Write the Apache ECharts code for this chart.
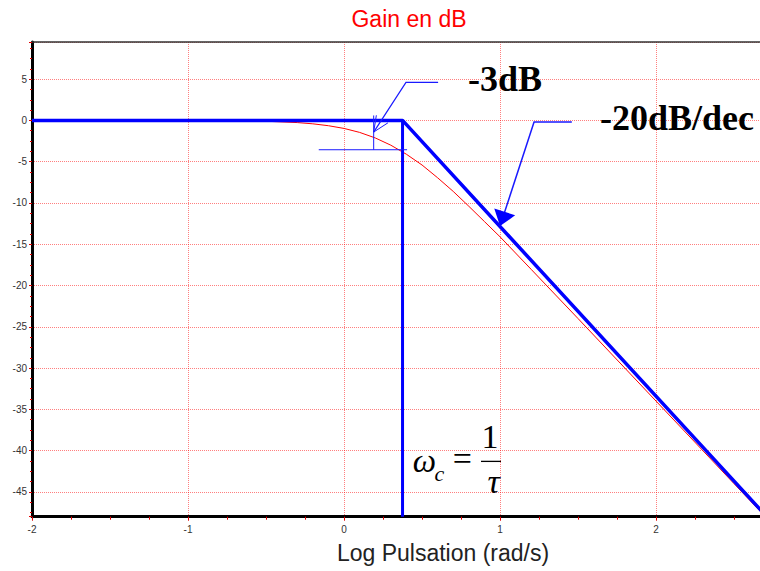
<!DOCTYPE html>
<html><head><meta charset="utf-8">
<script src="https://cdn.jsdelivr.net/npm/echarts@6/dist/echarts.min.js"></script>
<style>html,body{margin:0;padding:0;background:#fff}#c{width:760px;height:571px}</style>
</head><body><div id="c"></div>
<script>
// ---- data ----
const titleText = 'Gain en dB';
const xAxisTitle = 'Log Pulsation (rad/s)';
// real gain curve (red): log10(omega) and gain in dB
const redX = [-2, -1.5, -1, -0.7, -0.5, -0.3, -0.2, -0.1, 0, 0.1, 0.2, 0.3, 0.4, 0.5, 0.6, 0.7, 0.8, 0.9, 1.0, 1.2, 1.5, 2.0, 2.5, 2.7];
const redY = [0, 0, -0.02, -0.05, -0.1, -0.26, -0.41, -0.64, -0.97, -1.45, -2.12, -3.0, -4.1, -5.4, -6.95, -8.6, -10.4, -12.25, -14.1, -18.05, -24.0, -34.0, -44.0, -48.0];
// asymptotic diagram (blue)
const asymX = [-2, 0.375, 2.71];
const asymY = [0, 0, -48];
// cut-off frequency marker (blue vertical)
const cutX = [0.375, 0.375];
const cutY = [0, -48];
// annotation labels
const label3dB = '-3dB';
const labelSlope = '-20dB/dec';

// ---- annotation anchors (data coordinates) ----
const ann = {
  dimV: [[0.19, 0.6], [0.19, -3.55]],
  dimH: [[-0.162, -3.55], [0.404, -3.55]],
  lead3: [[0.603, 4.6], [0.397, 4.6], [0.19, -1.41]],
  lead20: [[1.46, -0.2], [1.218, -0.2], [1.0, -12.8]],
  t3dB: [0.795, 5.0],
  tSlope: [1.641, 0.25],
  omega: [0.44, -41.3],
  sub: [0.58, -42.8],
  eq: [0.697, -41.0],
  one: [0.936, -38.3],
  barL: [0.878, -41.3], barR: [1.006, -41.3],
  tau: [0.958, -43.7]
};

const zip = (xs, ys) => xs.map((x, i) => [x, ys[i]]);
const gridColor = 'rgba(255,0,0,0.5)';
const tickColor = '#e00000';

const option = {
  animation: false,
  backgroundColor: '#fff',
  grid: { left: 32, top: 42, right: -2, bottom: 54.3, show: false, containLabel: false, outerBoundsMode: 'none' },
  xAxis: [{
    type: 'value', min: -2, max: 2.679, interval: 1,
    axisLine: { onZero: false, lineStyle: { color: '#000', width: 3 } },
    axisTick: { length: 4, lineStyle: { color: tickColor, width: 1 } },
    minorTick: { show: true, splitNumber: 4, length: 3, lineStyle: { color: tickColor, width: 1 } },
    axisLabel: { fontSize: 10, color: '#333', margin: 8, fontFamily: 'Liberation Sans', showMaxLabel: false,
      formatter: v => (Math.abs(v - Math.round(v)) < 1e-9 ? String(v) : '') },
    splitLine: { show: true, lineStyle: { color: gridColor, type: [1, 1], width: 1 } }
  }, {
    type: 'value', position: 'top', min: -2, max: 2.679,
    axisLine: { show: true, onZero: false, lineStyle: { color: '#333', width: 1.5 } },
    axisTick: { show: false }, axisLabel: { show: false }, splitLine: { show: false }
  }],
  yAxis: {
    type: 'value', min: -48, max: 9.5, splitNumber: 11,
    axisLine: { show: true, onZero: false, lineStyle: { color: '#000', width: 3 } },
    axisTick: { show: true, length: 3, lineStyle: { color: tickColor, width: 1 } },
    minorTick: { show: true, splitNumber: 4, length: 2, lineStyle: { color: tickColor, width: 1 } },
    axisLabel: {
      showMinLabel: false, showMaxLabel: false, fontSize: 10, color: '#333', margin: 5, fontFamily: 'Liberation Sans',
      formatter: v => (Math.abs(v % 5) < 1e-9 ? String(v) : '')
    },
    splitLine: { show: true, lineStyle: { color: gridColor, type: [1, 1], width: 1 } }
  },
  series: [
    { type: 'line', data: zip(redX, redY), symbol: 'none', lineStyle: { color: '#ff0000', width: 1 }, z: 3 },
    { type: 'line', data: zip(asymX, asymY), symbol: 'none', lineStyle: { color: '#0000ff', width: 3.5 }, z: 5 },
    { type: 'line', data: zip(cutX, cutY), symbol: 'none', lineStyle: { color: '#0000ff', width: 3 }, z: 5 }
  ]
};

const chart = echarts.init(document.getElementById('c'), null, { renderer: 'svg', width: 760, height: 571 });
chart.setOption(option);

const px = p => chart.convertToPixel({ gridIndex: 0 }, p);
const annColor = '#1a1aff';
function pline(ptsPx, w) {
  return { type: 'polyline', shape: { points: ptsPx }, style: { stroke: annColor, lineWidth: w, fill: null }, z: 20 };
}
function openArrow(tipD, fromD, len, ang) {
  const T = px(tipD), P = px(fromD);
  let dx = P[0] - T[0], dy = P[1] - T[1];
  const L = Math.hypot(dx, dy); dx /= L; dy /= L;
  const rot = a => [T[0] + len * (dx * Math.cos(a) - dy * Math.sin(a)), T[1] + len * (dx * Math.sin(a) + dy * Math.cos(a))];
  return pline([rot(ang), T, rot(-ang)], 1);
}
function filledArrow(tipD, fromD, len, half) {
  const T = px(tipD), P = px(fromD);
  let dx = P[0] - T[0], dy = P[1] - T[1];
  const L = Math.hypot(dx, dy); dx /= L; dy /= L;
  const C = [T[0] + len * dx, T[1] + len * dy];
  return { type: 'polygon', shape: { points: [T, [C[0] - half * dy, C[1] + half * dx], [C[0] + half * dy, C[1] - half * dx]] }, style: { fill: '#0000ff' }, z: 20 };
}
function txt(text, pos, font, align, fill) {
  return { type: 'text', x: pos[0], y: pos[1], z: 30,
    style: { text: text, font: font, fill: fill || '#000', align: align || 'left', verticalAlign: 'middle', textAlign: align || 'left', textVerticalAlign: 'middle' } };
}

const serif = '"Liberation Serif", "Times New Roman", serif';
const elements = [
  txt(titleText, [409, 19], '23px "Liberation Sans", Arial, sans-serif', 'center', '#ff0000'),
  txt(xAxisTitle, [443, 553], '23px "Liberation Sans", Arial, sans-serif', 'center', '#222'),
  pline(ann.dimV.map(px), 1),
  pline(ann.dimH.map(px), 1),
  pline(ann.lead3.map(px), 1.2),
  openArrow(ann.lead3[2], ann.lead3[1], 17, 24 * Math.PI / 180),
  pline(ann.lead20.map(px), 1.5),
  filledArrow(ann.lead20[2], ann.lead20[1], 15, 11),
  txt(label3dB, px(ann.t3dB), 'bold 36px ' + serif, 'left'),
  txt(labelSlope, px(ann.tSlope), 'bold 36px ' + serif, 'left'),
  txt('ω', px(ann.omega), 'italic 33px ' + serif, 'left'),
  txt('c', px(ann.sub), 'italic 22px ' + serif, 'left'),
  txt('=', px(ann.eq), '34px ' + serif, 'left'),
  txt('1', px(ann.one), '34px ' + serif, 'center'),
  { type: 'line', shape: { x1: px(ann.barL)[0], y1: px(ann.barL)[1], x2: px(ann.barR)[0], y2: px(ann.barR)[1] }, style: { stroke: '#000', lineWidth: 1.3 }, z: 30 },
  txt('τ', px(ann.tau), 'italic 34px ' + serif, 'center')
];
chart.setOption({ graphic: { elements: elements } });
</script>
</body></html>
